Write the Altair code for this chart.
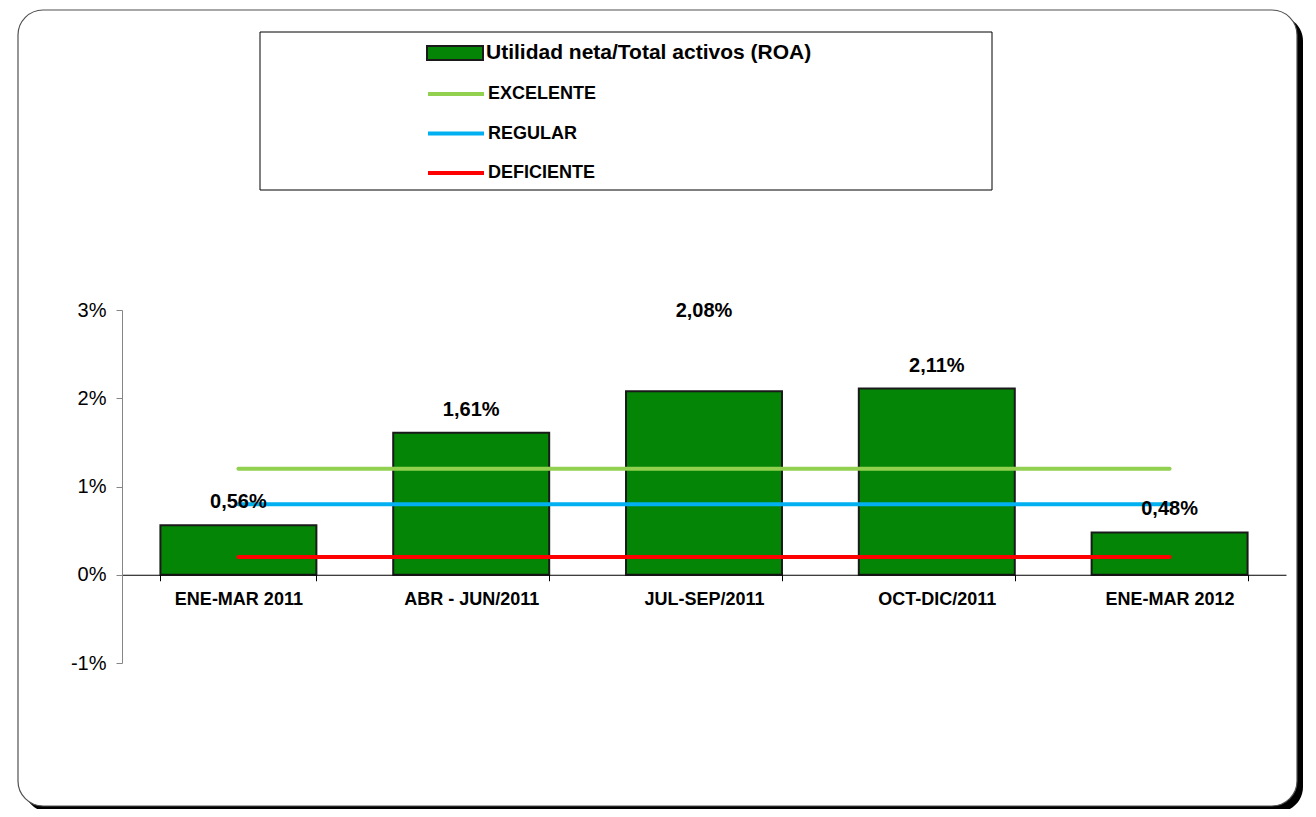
import altair as alt
import pandas as pd

# ---- data ----
periodos = ["ENE-MAR 2011", "ABR - JUN/2011", "JUL-SEP/2011", "OCT-DIC/2011", "ENE-MAR 2012"]
roa = [0.56, 1.61, 2.08, 2.11, 0.48]
roa_labels = ["0,56%", "1,61%", "2,08%", "2,11%", "0,48%"]
label_pos = [0.56, 1.61, 2.73, 2.11, 0.48]
serie_roa = "Utilidad neta/Total activos (ROA)"
niveles = ["EXCELENTE", "REGULAR", "DEFICIENTE"]
nivel_valores = [1.2, 0.8, 0.2]
nivel_colores = ["#92D050", "#00B0F0", "#FF0000"]
y_ticks = [-1, 0, 1, 2, 3]

FONT = "Liberation Sans"

bars_df = pd.DataFrame({
    "periodo": periodos,
    "valor": roa,
    "etiqueta": roa_labels,
    "pos": label_pos,
    "serie": [serie_roa] * len(periodos),
})
lines_df = pd.DataFrame(
    [{"periodo": p, "nivel": n, "valor": v} for n, v in zip(niveles, nivel_valores) for p in periodos]
)
deco_df = pd.DataFrame({"k": [0]})

x_scale = alt.Scale(domain=periodos, paddingInner=0.33, paddingOuter=0.165)
y_scale = alt.Scale(domain=[-1, 3], nice=False, zero=False)

x_axis = alt.Axis(
    title=None, orient="bottom", offset=-88.25, tickBand="extent", zindex=1,
    domainColor="#000000", domainWidth=1, tickColor="#000000", tickSize=6,
    labelAngle=0, labelFontSize=18, labelFontWeight="bold", labelFont=FONT,
    labelColor="#000000", labelPadding=10, grid=False, labelLimit=300,
)
y_axis = alt.Axis(
    title=None, values=y_ticks, labelExpr="datum.value + '%'", zindex=1,
    domainColor="#868686", tickColor="#868686", tickSize=6,
    labelFontSize=20, labelFont=FONT, labelColor="#000000", labelPadding=10,
    grid=False,
)

# decorative frame (shadow + rounded border) and legend box
shadow = alt.Chart(deco_df).mark_rect(fill="#000000", cornerRadius=25).encode(
    x=alt.value(-98), x2=alt.value(1181), y=alt.value(-294), y2=alt.value(502)
)
frame = alt.Chart(deco_df).mark_rect(
    fill="#ffffff", stroke="#505050", strokeWidth=1.2, cornerRadius=25
).encode(
    x=alt.value(-104), x2=alt.value(1175), y=alt.value(-300), y2=alt.value(496)
)
legend_box = alt.Chart(deco_df).mark_rect(
    fill="#ffffff", stroke="#000000", strokeWidth=1
).encode(
    x=alt.value(138), x2=alt.value(870), y=alt.value(-278), y2=alt.value(-120)
)

bars = alt.Chart(bars_df).mark_bar(stroke="#1a1a1a", strokeWidth=2).encode(
    x=alt.X("periodo:N", scale=x_scale, axis=x_axis, sort=periodos),
    y=alt.Y("valor:Q", scale=y_scale, axis=y_axis),
    fill=alt.Fill(
        "serie:N",
        scale=alt.Scale(domain=[serie_roa], range=["#058505"]),
        legend=alt.Legend(
            title=None, orient="none", legendX=322, legendY=-268, direction="vertical",
            padding=0, symbolType="M-2.8,-0.7H2.8V0.7H-2.8Z", symbolSize=400,
            symbolStrokeColor="#1a1a1a", symbolStrokeWidth=2,
            labelFontSize=21, labelFontWeight="bold", labelFont=FONT,
            labelColor="#000000", labelOffset=20, labelLimit=0,
        ),
    ),
)

lines = alt.Chart(lines_df).mark_line(strokeWidth=4, strokeCap="round").encode(
    x=alt.X("periodo:N", scale=x_scale, sort=periodos),
    y=alt.Y("valor:Q", scale=y_scale),
    stroke=alt.Stroke(
        "nivel:N",
        scale=alt.Scale(domain=niveles, range=nivel_colores),
        sort=niveles,
        legend=alt.Legend(
            title=None, orient="none", legendX=322, legendY=-228, direction="vertical",
            padding=0, symbolType="M-2.8,0H2.8", symbolSize=400,
            symbolStrokeWidth=4, symbolFillColor="transparent",
            labelFontSize=18, labelFontWeight="bold", labelFont=FONT,
            labelColor="#000000", labelOffset=20, labelLimit=0, rowPadding=18.5,
        ),
    ),
)

texts = alt.Chart(bars_df).mark_text(
    fontSize=20, fontWeight="bold", font=FONT, color="#000000",
    baseline="middle", align="center", dy=-23,
).encode(
    x=alt.X("periodo:N", scale=x_scale, sort=periodos),
    y=alt.Y("pos:Q", scale=y_scale),
    text="etiqueta:N",
)

chart = alt.layer(shadow, frame, legend_box, bars, lines, texts).resolve_scale(
    fill="independent", stroke="independent"
).properties(
    width=1164, height=353,
    autosize=alt.AutoSizeParams(type="none"),
    padding={"left": 114, "top": 302, "right": 22, "bottom": 146},
    background="#ffffff",
).configure_view(stroke=None).configure(font=FONT)

chart.save("out.html", embed_options={"renderer": "svg", "actions": False})
